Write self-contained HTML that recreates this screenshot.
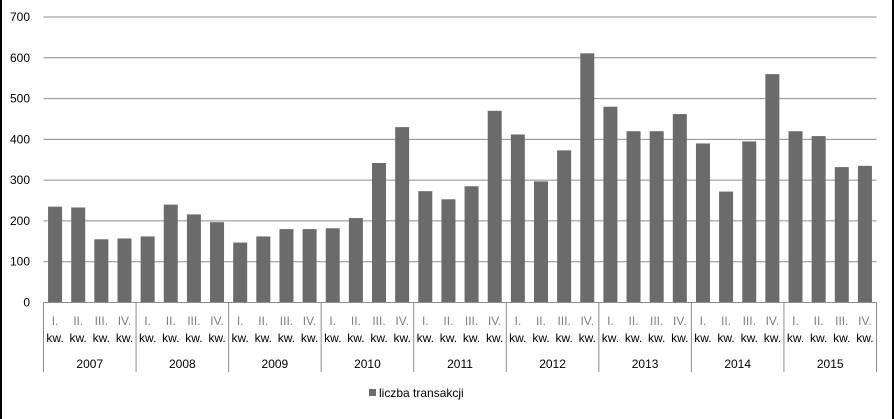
<!DOCTYPE html>
<html><head><meta charset="utf-8"><style>
body{margin:0;background:#fff;}
svg{display:block;font-family:"Liberation Sans",sans-serif;}
</style></head><body>
<svg id="chart" width="894" height="419" viewBox="0 0 894 419">
<rect x="0" y="0" width="2" height="419" fill="#000"/>
<rect x="892" y="0" width="2" height="419" fill="#000"/>
<g id="grid"></g>
<g id="bars"></g>
<g id="xaxis"></g>
<g id="yaxis"></g>
<g>
<rect x="369" y="389" width="7" height="7" fill="#6b6b6b"/>
<text x="379" y="397" font-size="12" fill="#000">liczba transakcji</text>
</g>
</svg>
<script>
const years=["2007","2008","2009","2010","2011","2012","2013","2014","2015"];
const quarters=["I.","II.","III.","IV."];
const values=[235,233,155,157,162,240,216,197,147,162,180,180,182,207,342,430,273,253,285,470,412,297,373,611,480,420,420,462,390,272,395,560,420,408,332,335];
const yTicks=[0,100,200,300,400,500,600,700];
const NS="http://www.w3.org/2000/svg";
const x0=43.5,x1=876.5,y0=302.5,yTop=17,yMax=700;
const n=values.length,cw=(x1-x0)/n,bw=14;
function yS(v){return y0-(v/yMax)*(y0-yTop);}
function xS(i){return x0+i*cw;}
function mk(tag,attrs,parent){const e=document.createElementNS(NS,tag);for(const k in attrs)e.setAttribute(k,attrs[k]);parent.appendChild(e);return e;}
const grid=document.getElementById('grid'),bars=document.getElementById('bars'),xa=document.getElementById('xaxis'),ya=document.getElementById('yaxis');
yTicks.forEach(t=>{
  if(t>0){const l=mk('line',{x1:x0,x2:x1,y1:yS(t),y2:yS(t),stroke:'#8c8c8c','stroke-width':1},grid);
  
  }
  const tx=mk('text',{x:30,y:yS(t)+4,'text-anchor':'end','font-size':12,fill:'#000'},ya);
  tx.textContent=t;
  
  
});
values.forEach((v,i)=>{
  const r=mk('rect',{x:xS(i)+(cw-bw)/2,y:yS(v),width:bw,height:y0-yS(v),fill:'#6b6b6b'},bars);
  
  
  const q=mk('text',{x:xS(i)+cw/2,y:325,'text-anchor':'middle','font-size':12,fill:'#7f7f7f'},xa);
  q.textContent=quarters[i%4];
  
  
  const k=mk('text',{x:xS(i)+cw/2,y:342,'text-anchor':'middle','font-size':12,fill:'#000'},xa);
  k.textContent='kw.';
  
  
});
const ax=mk('line',{x1:x0,x2:x1,y1:y0,y2:y0,stroke:'#8c8c8c'},xa);


for(let g=0;g<=years.length;g++){
  const xx=xS(g*4);
  const l=mk('line',{x1:xx,x2:xx,y1:y0,y2:372,stroke:'#8c8c8c'},xa);
  
  
  if(g<years.length){
    const t=mk('text',{x:xx+cw*2,y:368,'text-anchor':'middle','font-size':12,fill:'#000'},xa);
    t.textContent=years[g];
    
    
  }
}
</script>
</body></html>
